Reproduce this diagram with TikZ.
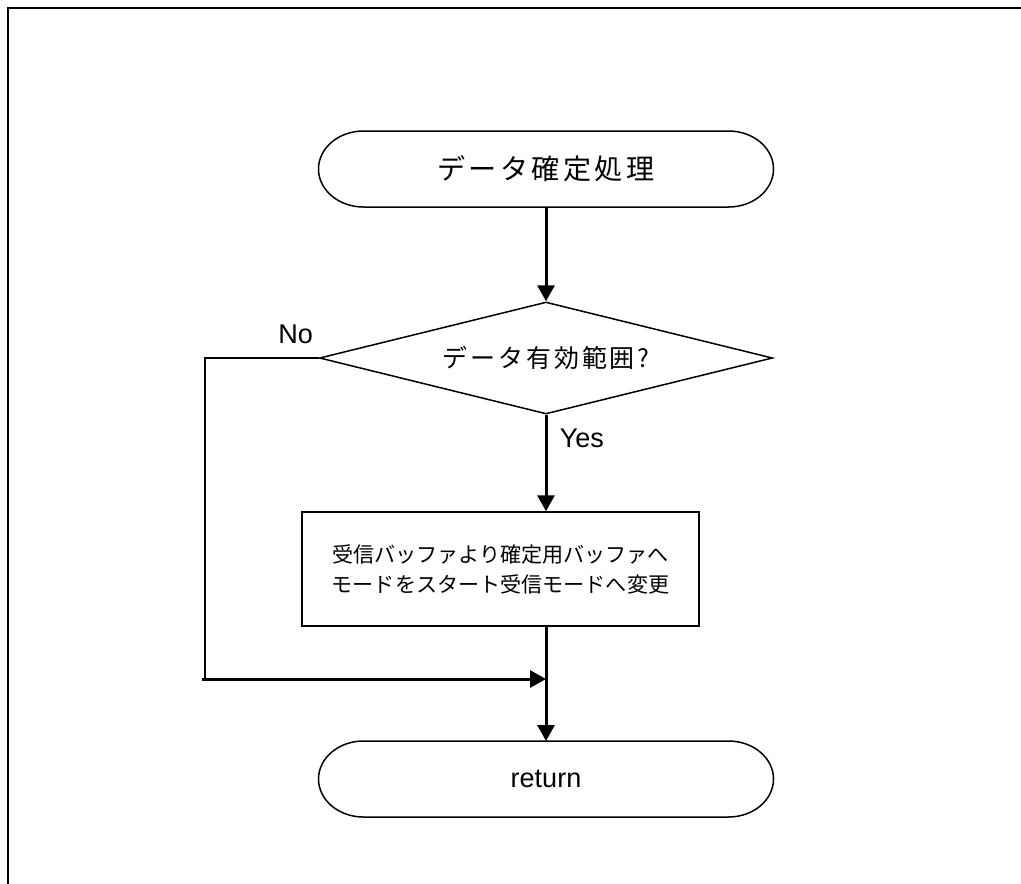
\documentclass[tikz,border=0pt]{standalone}
\usepackage{fontspec}
\setmainfont{Liberation Sans}
\newfontfamily\jpfont{Noto Sans CJK JP}
\newfontfamily\jpwide[LetterSpace=12]{Noto Sans CJK JP}
\usetikzlibrary{arrows.meta,positioning,shapes}

% outline of a terminal node with half-ellipse ends
\newcommand{\capsule}[1]{%
  \draw ([xshift=0.9cm]#1.north west) -- ([xshift=-0.9cm]#1.north east)
        arc[start angle=90,end angle=-90,x radius=0.9cm,y radius=0.76cm]
        -- ([xshift=0.9cm]#1.south west)
        arc[start angle=270,end angle=90,x radius=0.9cm,y radius=0.76cm] -- cycle;}

\begin{document}
\begin{tikzpicture}
        \tikzstyle{every path}=[line width=0.03cm]

        \tikzstyle{terminal}=[rectangle,outer sep=0pt,minimum width=9.1cm,minimum height=1.52cm]
        \tikzstyle{decision}=[diamond,draw,aspect=4,inner sep=0pt,minimum width=9.06cm,minimum height=2.24cm]
        \tikzstyle{process}=[rectangle,draw,minimum width=7.94cm,minimum height=2.28cm,align=center]
        \tikzstyle{flow}=[line width=0.06cm,-{Triangle[length=0.32cm,width=0.34cm]}]
        \tikzstyle{answer}=[inner sep=0pt,font=\fontsize{15.4}{18}\selectfont]

        %% Page frame
        \useasboundingbox (0,0) rectangle (20.42,-17.66);
        \draw [line width=0.04cm] (0.16,-17.8) -- (0.16,-0.16) -- (20.6,-0.16);

        %% Flow chart boxes
        \node [terminal,font=\jpwide\fontsize{16}{19}\selectfont] (start) at (10.92,-3.38) {データ確定処理};
        \node [decision,font=\jpwide\fontsize{14.2}{17}\selectfont] (check) at (10.92,-7.16) {データ有効範囲?};
        \node [process,font=\jpfont\fontsize{12}{17.07}\selectfont] (copy) at (10.01,-11.38)
            {受信バッファより確定用バッファへ\\モードをスタート受信モードへ変更};
        \node [terminal,font=\fontsize{15.4}{18}\selectfont] (ret) at (10.92,-15.58) {return};

        \capsule{start}
        \capsule{ret}

        %% Branch labels
        \node [answer,above left=0.26cm and 0.1cm of check.west] (no) {No};
        \node [answer,below right=0.26cm and 0.26cm of check.south] (yes) {Yes};

        %% Connectors
        \coordinate (corner) at (4.1,-13.58);
        \coordinate (join) at (check.south |- corner);

        \draw [flow] (start) -- (check);
        \draw [flow] (check) -- (check.south |- copy.north);
        \draw (check.west) -| (corner);
        \draw [flow] ([xshift=-0.06cm]corner) -- (join);
        \draw [flow] (check.south |- copy.south) -- (ret);
\end{tikzpicture}
\end{document}
